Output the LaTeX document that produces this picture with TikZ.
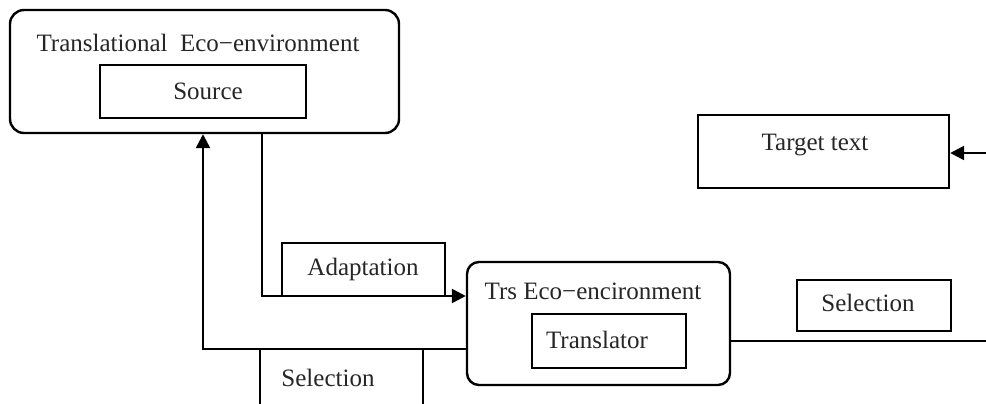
\documentclass[tikz,border=0pt]{standalone}
\usepackage{fontspec}
\setmainfont{Liberation Serif}
\usetikzlibrary{arrows.meta}
\begin{document}
\begin{tikzpicture}[x=1pt,y=-1pt,
  box/.style={draw,line width=2.4pt,inner sep=0pt},
  rbox/.style={draw,line width=2.4pt,rounded corners=14pt,inner sep=0pt},
  lbl/.style={inner sep=0pt,font=\fontsize{25}{30}\selectfont,text=black!85},
  conn/.style={line width=2.4pt},
  arr/.style={conn,-{Triangle[length=14pt,width=14pt]}}]
\clip (0,0) rectangle (986,404);
% outer translational box
\node[rbox,minimum width=389pt,minimum height=123pt] (te) at (204.5,71.5) {};
\node[lbl] (tetitle) at (198,43) {Translational\ \ Eco−environment};
\node[box,minimum width=206pt,minimum height=53pt] (src) at (203,91.5) {};
\node[lbl] (srct) at (208,91) {Source};
% Trs box
\node[rbox,minimum width=263pt,minimum height=123pt,rounded corners=12pt] (trs) at (598.5,323.5) {};
\node[lbl] (trstitle) at (593,291) {Trs Eco−encironment};
\node[box,minimum width=154pt,minimum height=54pt] (tr) at (609,341) {};
\node[lbl] (trt) at (597,340) {Translator};
% Adaptation
\node[box,minimum width=163pt,minimum height=53pt] (ad) at (363.5,269.5) {};
\node[lbl] (adt) at (363,269) {Adaptation};
% bottom selection
\node[box,minimum width=163pt,minimum height=70pt] (sel1) at (341.5,384) {};
\node[lbl] (sel1t) at (328,378) {Selection};
% right selection
\node[box,minimum width=154pt,minimum height=51pt] (sel2) at (874,305.5) {};
\node[lbl] (sel2t) at (868,303) {Selection};
% target
\node[box,minimum width=251pt,minimum height=73pt] (tg) at (823.5,151.5) {};
\node[lbl] (tgt) at (815,145) {Target text};
% connectors
\coordinate (a1) at (262,296);
\coordinate (s1) at (203,349);
\coordinate (e1) at (990,341);
\coordinate (e2) at (990,153);
\draw[arr] (te.south -| a1) -- (a1) -- (trs.west |- a1);
\draw[arr] (trs.west |- s1) -- (s1) -- (te.south -| s1);
\draw[conn,line width=1.8pt] (trs.east |- e1) -- (e1);
\draw[arr] (e2) -- (tg.east |- e2);
\end{tikzpicture}
\end{document}
